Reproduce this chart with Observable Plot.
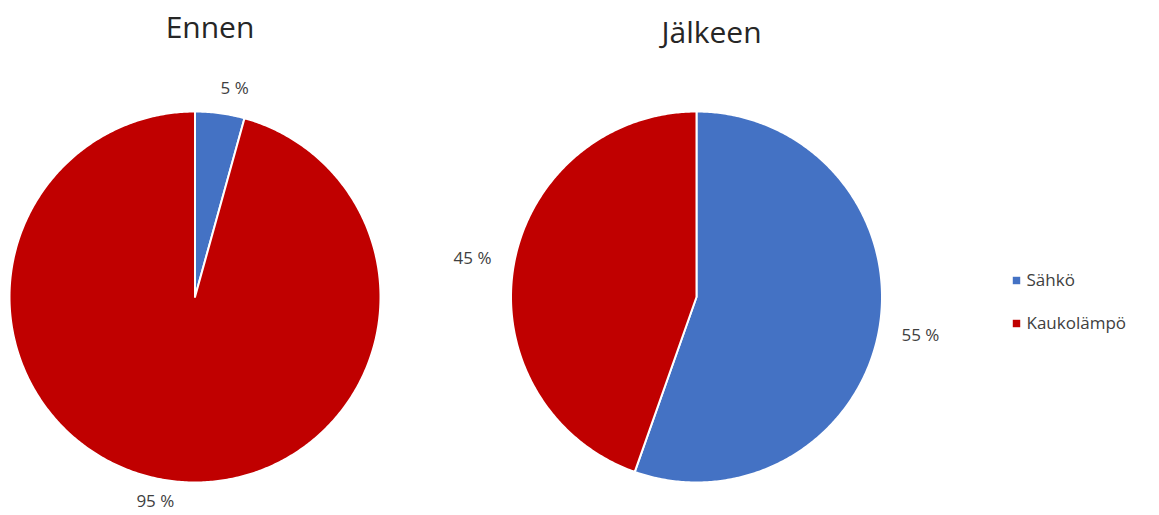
<!DOCTYPE html>
<html>
<head>
<meta charset="utf-8">
<script src="https://cdn.jsdelivr.net/npm/d3@7"></script>
<script src="https://cdn.jsdelivr.net/npm/@observablehq/plot@0.6"></script>
<style>
  html, body { margin: 0; padding: 0; background: #fff; }
  svg { display: block; }
</style>
</head>
<body>
<div id="chart"></div>
<script>
// ---- data ----
const series = ["Sähkö", "Kaukolämpö"];
const colors = ["#4472C4", "#C00000"];
const chartTitles = ["Ennen", "Jälkeen"];
const ennenValues = [4.3, 95.7];
const jalkeenValues = [55.4, 44.6];
const ennenLabels = ["5 %", "95 %"];
const jalkeenLabels = ["55 %", "45 %"];

// ---- layout ----
const W = 1159, H = 515;
const R = 185.5;
const pies = [
  {title: chartTitles[0], values: ennenValues, labels: ennenLabels, cx: 194.5, cy: 296.5, titleY: 28},
  {title: chartTitles[1], values: jalkeenValues, labels: jalkeenLabels, cx: 696, cy: 296.5, titleY: 33}
];
const font = "'Open Sans', 'Noto Sans', sans-serif";

const slicePts = [];
const labelRows = [];
const titleRows = [];
pies.forEach((p, pi) => {
  const arcs = d3.pie().sort(null).value(d => d)(p.values);
  arcs.forEach((a, i) => {
    const key = pi + "-" + i;
    slicePts.push({key, cat: series[i], x: p.cx, y: p.cy});
    const n = Math.max(2, Math.ceil((a.endAngle - a.startAngle) / 0.01));
    for (let k = 0; k <= n; k++) {
      const t = a.startAngle + (a.endAngle - a.startAngle) * k / n;
      slicePts.push({key, cat: series[i], x: p.cx + R * Math.sin(t), y: p.cy - R * Math.cos(t)});
    }
    const mid = (a.startAngle + a.endAngle) / 2;
    const s = Math.sin(mid), c = Math.cos(mid);
    const d = R + 20 + Math.abs(s) * 22;
    const c4 = Math.pow(Math.abs(c), 4);
    labelRows.push({text: p.labels[i], x: p.cx + d * s + Math.sign(s) * c4 * 12, y: p.cy - d * c - c4 * 2});
  });
  titleRows.push({text: p.title, x: p.cx + 15, y: p.titleY});
});

const legendRows = series.map((s, i) => ({cat: s, x: 1016, y: 280 + i * 43}));

const chart = Plot.plot({
  width: W,
  height: H,
  margin: 0,
  x: {domain: [0, W], axis: null},
  y: {domain: [0, H], reverse: true, axis: null},
  color: {domain: series, range: colors},
  style: {fontFamily: font, background: "#fff"},
  marks: [
    Plot.line(slicePts, {x: "x", y: "y", z: "key", fill: "cat", stroke: "white", strokeWidth: 2, curve: "linear-closed", strokeLinejoin: "round"}),
    Plot.text(labelRows, {x: "x", y: "y", text: "text", fontSize: 17, fill: "#404040", fontFamily: font}),
    Plot.text(titleRows, {x: "x", y: "y", text: "text", fontSize: 30, fill: "#262626", fontFamily: font}),
    Plot.dot(legendRows, {x: "x", y: "y", fill: "cat", symbol: "square", r: 4.2}),
    Plot.text(legendRows, {x: d => d.x + 10, y: "y", text: "cat", textAnchor: "start", fontSize: 17, fill: "#404040", fontFamily: font})
  ]
});
document.getElementById("chart").appendChild(chart);
</script>
</body>
</html>
